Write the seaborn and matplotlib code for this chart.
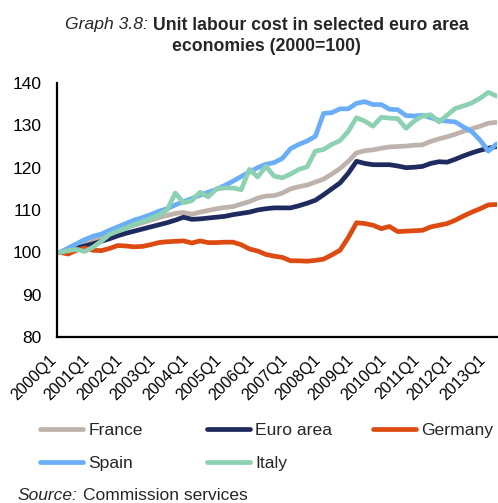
import matplotlib
matplotlib.use("Agg")
import matplotlib.pyplot as plt
from matplotlib.lines import Line2D
from matplotlib.transforms import ScaledTranslation
import numpy as np
import pandas as pd
import seaborn as sns

# ---------------- data ----------------
quarters = [f"{y}Q{q}" for y in range(2000, 2014) for q in range(1, 5)][:54]
tick_labels = ["2000Q1", "2001Q1", "2002Q1", "2003Q1", "2004Q1", "2005Q1", "2006Q1",
               "2007Q1", "2008Q1", "2009Q1", "2010Q1", "2011Q1", "2012Q1", "2013Q1"]

france = [100, 100.7, 101.4, 102.2, 103.0, 103.7, 104.4, 105.1, 105.8, 106.4,
          107.0, 107.6, 108.2, 108.7, 109.2, 109.4, 109.0, 109.5, 109.9, 110.3,
          110.6, 110.8, 111.4, 112.0, 112.8, 113.3, 113.4, 114.0, 115.0, 115.5,
          115.9, 116.6, 117.3, 118.5, 119.8, 121.5, 123.5, 124.0, 124.2, 124.6,
          124.9, 125.0, 125.1, 125.3, 125.4, 126.2, 126.8, 127.3, 127.9, 128.6,
          129.2, 129.8, 130.5, 130.7]
euro_area = [100, 100.5, 101.0, 101.5, 102.0, 102.6, 103.2, 103.9, 104.5, 105.0,
             105.5, 106.0, 106.5, 107.0, 107.6, 108.3, 107.8, 107.9, 108.1, 108.3,
             108.5, 108.9, 109.2, 109.5, 110.0, 110.3, 110.5, 110.5, 110.5, 111.0,
             111.6, 112.3, 113.6, 115.0, 116.4, 118.7, 121.5, 121.0, 120.7, 120.7,
             120.7, 120.4, 120.0, 120.1, 120.3, 121.0, 121.4, 121.3, 122.0, 122.8,
             123.5, 124.1, 124.6, 125.0]
germany = [100, 99.6, 100.5, 101.0, 100.5, 100.4, 100.9, 101.6, 101.5, 101.3,
           101.4, 101.8, 102.3, 102.5, 102.6, 102.7, 102.2, 102.7, 102.3, 102.3,
           102.4, 102.4, 101.8, 100.8, 100.3, 99.5, 99.1, 98.8, 98.0, 98.0,
           97.9, 98.1, 98.4, 99.4, 100.5, 103.5, 107.0, 106.8, 106.4, 105.6,
           106.1, 104.9, 105.0, 105.1, 105.2, 106.0, 106.4, 106.8, 107.6, 108.6,
           109.5, 110.3, 111.2, 111.3]
spain = [100, 101.0, 102.0, 103.0, 103.8, 104.3, 105.2, 106.0, 106.8, 107.6,
         108.2, 108.9, 109.7, 110.3, 111.2, 112.0, 112.7, 113.5, 114.2, 114.9,
         115.8, 116.8, 117.9, 119.0, 120.0, 120.8, 121.2, 122.2, 124.5, 125.5,
         126.3, 127.4, 132.8, 133.0, 133.9, 133.9, 135.2, 135.6, 134.9, 134.9,
         133.8, 133.7, 132.3, 132.2, 132.4, 131.8, 131.2, 131.0, 130.8, 129.6,
         128.5, 126.5, 123.9, 125.6]
italy = [100, 100.4, 100.7, 100.2, 101.2, 102.6, 104.2, 105.0, 105.7, 106.6,
         107.2, 108.0, 108.8, 110.0, 114.0, 111.7, 112.2, 114.2, 113.1, 115.0,
         115.2, 115.2, 114.8, 119.6, 117.8, 120.3, 118.0, 117.6, 118.5, 119.6,
         120.2, 123.9, 124.3, 125.5, 126.4, 128.6, 131.8, 131.0, 129.8, 131.9,
         131.7, 131.6, 129.3, 131.0, 132.2, 132.5, 130.8, 132.4, 134.0, 134.6,
         135.3, 136.4, 137.8, 136.9]

series_names = ["France", "Euro area", "Germany", "Spain", "Italy"]
colors = {"France": "#BDB3AC", "Euro area": "#1F2A5E", "Germany": "#DD4A12",
          "Spain": "#6AAEF7", "Italy": "#8DD1B3"}

df = pd.DataFrame({"quarter": quarters, "France": france, "Euro area": euro_area,
                   "Germany": germany, "Spain": spain, "Italy": italy})
df["idx"] = np.arange(len(df))
long = df.melt(id_vars=["quarter", "idx"], value_vars=series_names,
               var_name="series", value_name="value")

# ---------------- style ----------------
sns.set_theme(style="white")
plt.rcParams["font.family"] = ["Liberation Sans", "DejaVu Sans"]

W, H = 498, 503
fig = plt.figure(figsize=(W / 100, H / 100), dpi=100)
ax = fig.add_axes([57 / W, 1 - 337 / H, 440 / W, 254 / H])

sns.lineplot(data=long, x="idx", y="value", hue="series", hue_order=series_names,
             palette=colors, linewidth=3.4, ax=ax, sort=False, legend=False)
for ln in ax.get_lines():
    ln.set_solid_capstyle("round")
    ln.set_solid_joinstyle("round")

ax.set_xlim(-0.36, 53.05)
ax.set_ylim(80, 140)
ax.set_yticks(range(80, 141, 10))
tick_pos = [quarters.index(t) for t in tick_labels]
ax.set_xticks(tick_pos)
ax.set_xticklabels(tick_labels, rotation=45, ha="right", rotation_mode="anchor",
                   fontsize=11.5)
ax.tick_params(axis="y", length=0, pad=11, labelsize=12.5, colors="#000000")
ax.tick_params(axis="x", length=0, pad=11, colors="#000000")
shift = ScaledTranslation(-11 / 100, 0, fig.dpi_scale_trans)
for lab in ax.get_xticklabels():
    lab.set_transform(lab.get_transform() + shift)
ax.set_xlabel("")
ax.set_ylabel("")
for s in ["top", "right"]:
    ax.spines[s].set_visible(False)
for s in ["left", "bottom"]:
    ax.spines[s].set_color("black")
    ax.spines[s].set_linewidth(1.6)
ax.grid(False)

# ---------------- title ----------------
fig.text(65 / W, 1 - 25 / H, "Graph 3.8:", style="italic", fontsize=12.6,
         ha="left", va="center")
fig.text(153 / W, 1 - 25 / H, "Unit labour cost in selected euro area",
         fontweight="bold", fontsize=12.7, ha="left", va="center")
fig.text(266 / W, 1 - 46 / H, "economies (2000=100)", fontweight="bold",
         fontsize=12.7, ha="center", va="center")

# ---------------- legend ----------------
def handle(name):
    return Line2D([], [], color=colors[name], lw=3.4, solid_capstyle="round")

cols = [(["France", "Spain"], 40), (["Euro area", "Italy"], 207), (["Germany"], 373)]
for names, xpx in cols:
    fig.legend([handle(n) for n in names], names, loc="upper left",
               bbox_to_anchor=(xpx / W, 1 - 423 / H), frameon=False,
               fontsize=12.6, handlelength=2.45, handletextpad=0.3,
               borderpad=0, borderaxespad=0, labelspacing=1.0)

# ---------------- source ----------------
fig.text(18 / W, 1 - 496 / H, "Source:", style="italic", fontsize=12.5,
         ha="left", va="center")
fig.text(83 / W, 1 - 496 / H, "Commission services", fontsize=12.5,
         ha="left", va="center")

fig.savefig("out.png", dpi=100)
